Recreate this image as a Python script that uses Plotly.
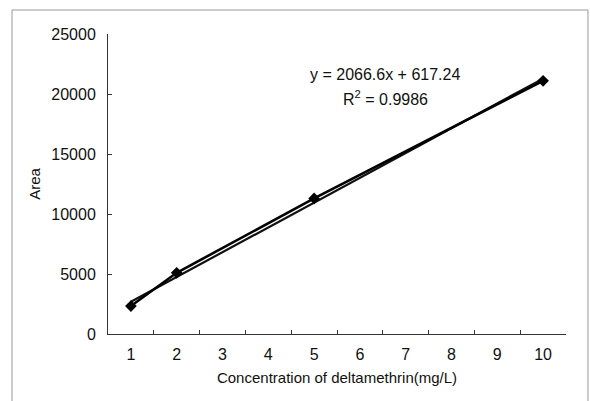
import plotly.graph_objects as go

# ---- data ----
categories = [str(i) for i in range(1, 11)]
conc = ["1", "2", "5", "10"]
area = [2330, 5100, 11300, 21100]
trend_slope = 2066.6
trend_intercept = 617.24
trend_x = ["1", "10"]
y_ticks = [0, 5000, 10000, 15000, 20000, 25000]
y_tick_labels = ["0", "5000", "10000", "15000", "20000", "25000"]

trend_y = [trend_slope * float(v) + trend_intercept for v in trend_x]

FONT = "Liberation Sans, Arial, sans-serif"

fig = go.Figure()
fig.add_trace(go.Scatter(
    x=trend_x, y=trend_y, mode="lines",
    line=dict(color="#111", width=2.2), showlegend=False, hoverinfo="skip"))
fig.add_trace(go.Scatter(
    x=conc, y=area, mode="lines+markers",
    line=dict(color="#000", width=2.6),
    marker=dict(symbol="diamond", size=9, color="#000"),
    showlegend=False))

fig.update_layout(
    width=590, height=401,
    margin=dict(l=108, r=24, t=34, b=67),
    paper_bgcolor="white", plot_bgcolor="white",
    font=dict(family=FONT, size=16, color="#111"),
    xaxis=dict(
        type="category", categoryorder="array", categoryarray=categories,
        range=[-0.5, 9.5], tickson="boundaries",
        ticks="inside", ticklen=4, tickcolor="#333",
        showline=True, linecolor="#333", linewidth=1,
        showgrid=False, zeroline=False,
        tickfont=dict(size=16), ticklabelstandoff=6,
        title=dict(text="Concentration of deltamethrin(mg/L)",
                   font=dict(size=15), standoff=10),
    ),
    yaxis=dict(
        range=[0, 25000], tickvals=y_ticks, ticktext=y_tick_labels,
        ticks="inside", ticklen=4, tickcolor="#333",
        showline=True, linecolor="#333", linewidth=1,
        showgrid=False, zeroline=False,
        tickfont=dict(size=16), ticklabelstandoff=8,
        title=dict(text="Area", font=dict(size=15), standoff=7),
    ),
    shapes=[dict(type="rect", xref="paper", yref="paper",
                 x0=-0.2096, x1=1.048, y0=-0.24, y1=1.08,
                 line=dict(color="#999", width=1))],
    annotations=[
        dict(x=0.605, y=0.865, xref="paper", yref="paper",
             text="y = 2066.6x + 617.24", showarrow=False,
             font=dict(size=16), xanchor="center", yanchor="middle"),
        dict(x=0.605, y=0.785, xref="paper", yref="paper",
             text="R<sup>2</sup> = 0.9986", showarrow=False,
             font=dict(size=16), xanchor="center", yanchor="middle"),
    ],
)

fig.write_html("out.html")
